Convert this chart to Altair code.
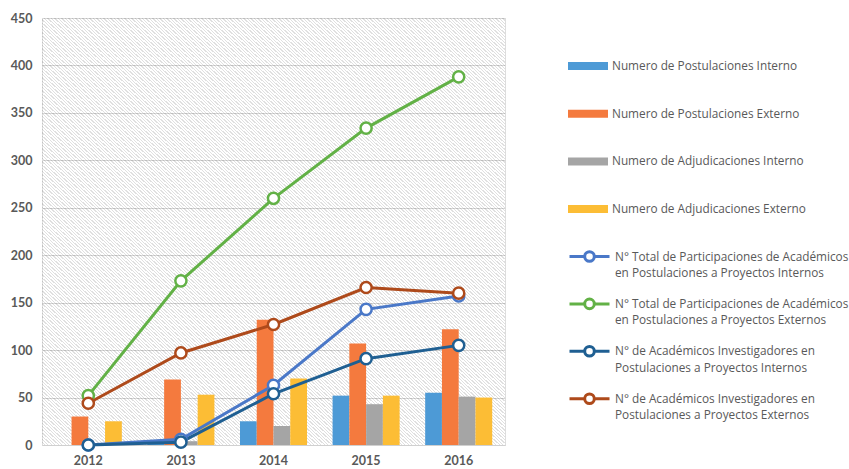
import altair as alt
import pandas as pd

# ---- data -------------------------------------------------------------
years = ["2012", "2013", "2014", "2015", "2016"]

bar_names = [
    "Numero de Postulaciones Interno",
    "Numero de Postulaciones Externo",
    "Numero de Adjudicaciones Interno",
    "Numero de Adjudicaciones Externo",
]
post_interno = [0, 3, 25, 52, 55]
post_externo = [30, 69, 132, 107, 122]
adj_interno = [0, 4, 20, 43, 51]
adj_externo = [25, 53, 70, 52, 50]
bar_values = [post_interno, post_externo, adj_interno, adj_externo]
bar_colors = ["#4d9ad6", "#f47a3e", "#a5a5a5", "#fcbd35"]

line_names = [
    "N° Total de Participaciones de Académicos\nen Postulaciones a Proyectos Internos",
    "N° Total de Participaciones de Académicos\nen Postulaciones a Proyectos Externos",
    "N° de Académicos Investigadores en\nPostulaciones a Proyectos Internos",
    "N° de Académicos Investigadores en\nPostulaciones a Proyectos Externos",
]
total_interno = [0, 6, 63, 143, 157]
total_externo = [52, 173, 260, 334, 388]
acad_interno = [0, 3, 54, 91, 105]
acad_externo = [44, 97, 127, 166, 160]
line_values = [total_interno, total_externo, acad_interno, acad_externo]
line_colors = ["#4a78c8", "#62b146", "#1f5f92", "#ae4a1b"]

y_ticks = [0, 50, 100, 150, 200, 250, 300, 350, 400, 450]

bar_df = pd.DataFrame(
    [{"anio": y, "serie": n, "valor": v}
     for n, vals in zip(bar_names, bar_values) for y, v in zip(years, vals)]
)
line_df = pd.DataFrame(
    [{"anio": y, "serie": n, "valor": v}
     for n, vals in zip(line_names, line_values) for y, v in zip(years, vals)]
)

# ---- layout -----------------------------------------------------------
W, H = 463, 427
AXIS_FONT = "Lato"
LEGEND_FONT = "Open Sans"
LEGEND_SIZE = 11.8
TEXT = "#595959"

x_scale = alt.Scale(domain=years, paddingInner=0.276, paddingOuter=0.138)
y_scale = alt.Scale(domain=[0, 450], nice=False)

# diagonal hatching of the plot background, built as a striped gradient
period_px = 3.5
dt = period_px / (2 * W)
clear, ink = "rgba(0,0,0,0)", "rgba(0,0,0,0.12)"
stops = []
t = 0.0
while t < 1.0:
    a = min(t + dt * 0.62, 1.0)
    b = min(t + dt, 1.0)
    stops += [
        alt.GradientStop(offset=t, color=clear),
        alt.GradientStop(offset=a, color=clear),
        alt.GradientStop(offset=a, color=ink),
        alt.GradientStop(offset=b, color=ink),
    ]
    t += dt

hatch = alt.Chart(alt.Data(values=[{}])).mark_rect(
    fill=alt.Gradient(gradient="linear", stops=stops, x1=0, y1=1, x2=1, y2=0)
).encode(
    x=alt.value(0), x2=alt.value(W), y=alt.value(0), y2=alt.value(H)
)

x_axis = alt.Axis(
    title=None, labelAngle=0, ticks=False, grid=False, domain=True,
    domainColor="#d0d0d0", labelColor=TEXT, labelFont=AXIS_FONT,
    labelFontSize=12.5, labelFontWeight="bold", labelPadding=9,
)
y_axis = alt.Axis(
    title=None, values=y_ticks, ticks=False, domain=False, grid=True,
    gridColor="#d6d6d6", labelColor=TEXT, labelFont=AXIS_FONT,
    labelFontSize=12.5, labelFontWeight="bold", labelPadding=10,
)

bar_symbol = "M-1,-0.2H1V0.2H-1Z"
line_symbol = (
    "M-1,0H-0.24M0.24,0H1"
    "M-0.24,0A0.24,0.24 0 1,1 0.24,0A0.24,0.24 0 1,1 -0.24,0"
)

bars = alt.Chart(bar_df).mark_bar().encode(
    x=alt.X("anio:N", scale=x_scale, axis=x_axis),
    xOffset=alt.XOffset(
        "serie:N", sort=bar_names,
        scale=alt.Scale(domain=bar_names, paddingInner=0, paddingOuter=0),
    ),
    y=alt.Y("valor:Q", scale=y_scale, axis=y_axis),
    fill=alt.Fill(
        "serie:N",
        scale=alt.Scale(domain=bar_names, range=bar_colors),
        legend=alt.Legend(
            title=None, orient="none", legendX=526, legendY=28,
            symbolType=bar_symbol, symbolSize=1600, symbolStrokeWidth=0,
            labelFont=LEGEND_FONT, labelFontSize=LEGEND_SIZE, labelColor=TEXT,
            labelOffset=4, labelLimit=400, rowPadding=20.7,
        ),
    ),
)

line_legend = alt.Legend(
    title=None, orient="none", legendX=526, legendY=217,
    symbolType=line_symbol, symbolSize=1600, symbolStrokeWidth=3,
    symbolFillColor="white",
    labelFont=LEGEND_FONT, labelFontSize=LEGEND_SIZE, labelColor=TEXT,
    labelOffset=4, labelLimit=400, rowPadding=2.4,
    labelExpr="split(datum.label, '\\n')",
)

stroke_enc = alt.Stroke(
    "serie:N", sort=line_names,
    scale=alt.Scale(domain=line_names, range=line_colors),
    legend=line_legend,
)

lines = alt.Chart(line_df).mark_line(strokeWidth=3).encode(
    x=alt.X("anio:N", scale=x_scale, axis=x_axis),
    y=alt.Y("valor:Q", scale=y_scale, axis=y_axis),
    stroke=stroke_enc,
)

points = alt.Chart(line_df).mark_point(
    shape="circle", size=125, strokeWidth=2.5, fill="white",
    fillOpacity=1, opacity=1,
).encode(
    x=alt.X("anio:N", scale=x_scale, axis=x_axis),
    y=alt.Y("valor:Q", scale=y_scale, axis=y_axis),
    stroke=stroke_enc,
)

chart = alt.layer(hatch, bars, lines, points).properties(
    width=W, height=H,
    autosize=alt.AutoSizeParams(type="none"),
    padding={"left": 42, "top": 18, "right": 344, "bottom": 24},
    background="white",
).configure_view(
    stroke=None
).configure(
    style={"guide-label": {"lineHeight": 16.5}}
)

chart.save("out.html", embed_options={"renderer": "svg", "actions": False})
